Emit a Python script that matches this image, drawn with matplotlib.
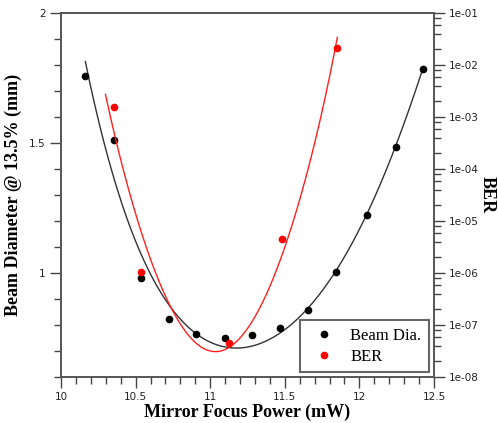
import numpy as np
import matplotlib.pyplot as plt
from matplotlib.ticker import MultipleLocator, LogLocator, NullFormatter
from matplotlib.lines import Line2D

# measured points
power = [10.163, 10.358, 10.537, 10.727, 10.906, 11.101, 11.283,
         11.466, 11.656, 11.842, 12.048, 12.243, 12.429]
beam_dia = [1.759, 1.512, 0.98, 0.822, 0.764, 0.749, 0.760,
            0.790, 0.858, 1.005, 1.223, 1.486, 1.785]

ber_power = [10.358, 10.537, 11.124, 11.484, 11.847]
ber = [1.58e-3, 1.03e-6, 4.6e-8, 4.5e-6, 2.1e-2]

# fitted curves
beam_fit_x = [10.163, 10.29, 10.324, 10.414, 10.481, 10.56, 10.649, 10.739,
              10.796, 10.93, 11.018, 11.152, 11.287, 11.466, 11.645, 11.843,
              11.958, 12.048, 12.243, 12.429]
beam_fit_y = [1.81, 1.51, 1.434, 1.229, 1.14, 1.057, 0.96, 0.865,
              0.820, 0.751, 0.726, 0.713, 0.722, 0.773, 0.857, 1.0,
              1.129, 1.225, 1.487, 1.793]

ber_fit_x = [10.298, 10.347, 10.403, 10.437, 10.504, 10.593, 10.727, 10.796,
             10.997, 11.087, 11.152, 11.242, 11.354, 11.455, 11.533, 11.645,
             11.724, 11.79, 11.852]
ber_fit_y = [3.1e-3, 4.9e-4, 1.5e-4, 6.2e-5, 1.4e-5, 2.0e-6, 2.4e-7, 1.07e-7,
             3.3e-8, 3.2e-8, 4.2e-8, 7.9e-8, 3.0e-7, 1.23e-6, 6.8e-6, 7.1e-5,
             5.6e-4, 5.1e-3, 3.2e-2]

ber_ticks = [1e-8, 1e-7, 1e-6, 1e-5, 1e-4, 1e-3, 1e-2, 1e-1]
ber_labels = ["1e-08", "1e-07", "1e-06", "1e-05", "1e-04", "1e-03", "1e-02", "1e-01"]

# smooth the read-off curves with a polynomial fit
bx = np.linspace(min(beam_fit_x), max(beam_fit_x), 300)
bc = np.polyfit(beam_fit_x, beam_fit_y, 6)
rx = np.linspace(min(ber_fit_x), max(ber_fit_x), 300)
rc = np.polyfit(ber_fit_x, np.log10(ber_fit_y), 6)

fig = plt.figure(figsize=(4.98, 4.23), dpi=100)
ax = fig.add_axes([0.1225, 0.1087, 0.749, 0.8606])
ax2 = ax.twinx()

ax.plot(bx, np.polyval(bc, bx), color="#333333", lw=1.0)
ax.plot(power, beam_dia, "o", color="black", ms=4.5)

ax2.plot(rx, 10 ** np.polyval(rc, rx), color="#ff2020", lw=1.0)
ax2.plot(ber_power, ber, "o", color="#ff0000", ms=4.5)
ax2.set_yscale("log")

ax.set_xlim(10, 12.5)
ax.set_ylim(0.6, 2)
ax2.set_ylim(1e-8, 1e-1)

ax.xaxis.set_minor_locator(MultipleLocator(0.1))
ax.yaxis.set_minor_locator(MultipleLocator(0.1))
ax.set_xticks([10, 10.5, 11, 11.5, 12, 12.5])
ax.set_xticklabels(["10", "10.5", "11", "11.5", "12", "12.5"])
ax.set_yticks([1, 1.5, 2])
ax.set_yticklabels(["1", "1.5", "2"])

ax2.set_yticks(ber_ticks)
ax2.set_yticklabels(ber_labels)
ax2.yaxis.set_minor_locator(LogLocator(base=10, subs=(2, 4, 6, 8)))
ax2.yaxis.set_minor_formatter(NullFormatter())

for a in (ax, ax2):
    a.tick_params(which="major", length=8, width=1, color="#444444", labelsize=7.5,
                  labelcolor="#222222", pad=3)
    a.tick_params(which="minor", length=5, width=1, color="#444444")
    for s in a.spines.values():
        s.set_color("#555555")
        s.set_linewidth(1.2)

ax.set_xlabel("Mirror Focus Power (mW)", family="Liberation Serif", fontweight="bold",
              fontsize=13, labelpad=1)
ax.set_ylabel("Beam Diameter @ 13.5% (mm)", family="Liberation Serif", fontweight="bold",
              fontsize=13, labelpad=5)
ax2.set_ylabel("BER", family="Liberation Serif", fontweight="bold", fontsize=13,
               rotation=270, labelpad=12)

handles = [Line2D([], [], marker="o", ls="", color="black", ms=4.5),
           Line2D([], [], marker="o", ls="", color="#ff0000", ms=4.5)]
leg = ax2.legend(handles, ["Beam Dia.", "BER"], loc="lower right",
                 bbox_to_anchor=(1.0, 0.0), fancybox=False, framealpha=1,
                 prop={"family": "Liberation Serif", "size": 12},
                 handletextpad=0.6, borderpad=0.45, labelspacing=0.3,
                 borderaxespad=0.3)
leg.get_frame().set_edgecolor("#666666")
leg.get_frame().set_linewidth(1.5)

fig.savefig("out.png", dpi=100)
